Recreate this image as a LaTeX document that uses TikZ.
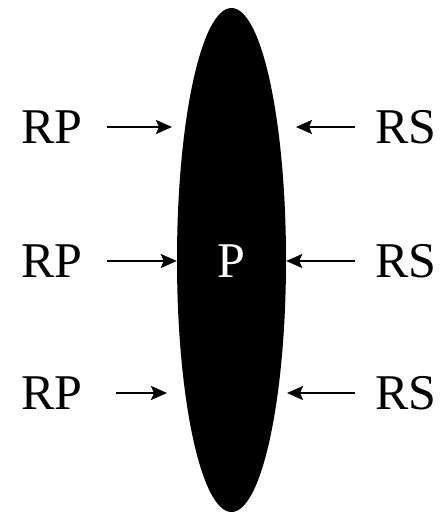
\documentclass[tikz,border=0pt]{standalone}
\usepackage{fontspec}
\setmainfont{Liberation Serif}
\usetikzlibrary{shapes.geometric}
\usetikzlibrary{arrows.meta}
\usetikzlibrary{calc}
\def\pushwidth{2pt}

\begin{document}
\begin{tikzpicture}[x = 1pt, y = -1pt,
    every node/.style={font=\fontsize{50}{60}\selectfont, inner sep=0pt},
    push/.style={line width=\pushwidth, -{Stealth[length=16pt,width=14pt,inset=3pt]}}]
        \useasboundingbox (0,0) rectangle (447,515);

            \node [ellipse, fill=black, minimum width=109pt, minimum height=504pt](cell) at (231.5,260){};
            \node [text=white](p) at (231,261){P};

            \node (rp1) at (52,127){RP};
            \node (rp2) at (52,261){RP};
            \node (rp3) at (52,393){RP};
            \node (rs1) at (406,127){RS};
            \node (rs2) at (406,261){RS};
            \node (rs3) at (406,393){RS};

            \coordinate (l1) at (172,127);
            \coordinate (l2) at ($(cell.west) + (0,1)$);
            \coordinate (l3) at (167,393);
            \coordinate (r1) at (296,127);
            \coordinate (r2) at ($(cell.east) + (0,1)$);
            \coordinate (r3) at (287,393);

        \draw [push, shorten <=24pt] (rp1.east) -- (l1);
        \draw [push, shorten <=24pt] (rp2.east) -- (l2);
        \draw [push, shorten <=33pt] (rp3.east) -- (l3);

        \draw [push, shorten <=20pt] (rs1.west) -- (r1);
        \draw [push, shorten <=20pt] (rs2.west) -- (r2);
        \draw [push, shorten <=20pt] (rs3.west) -- (r3);

\end{tikzpicture}
\end{document}
